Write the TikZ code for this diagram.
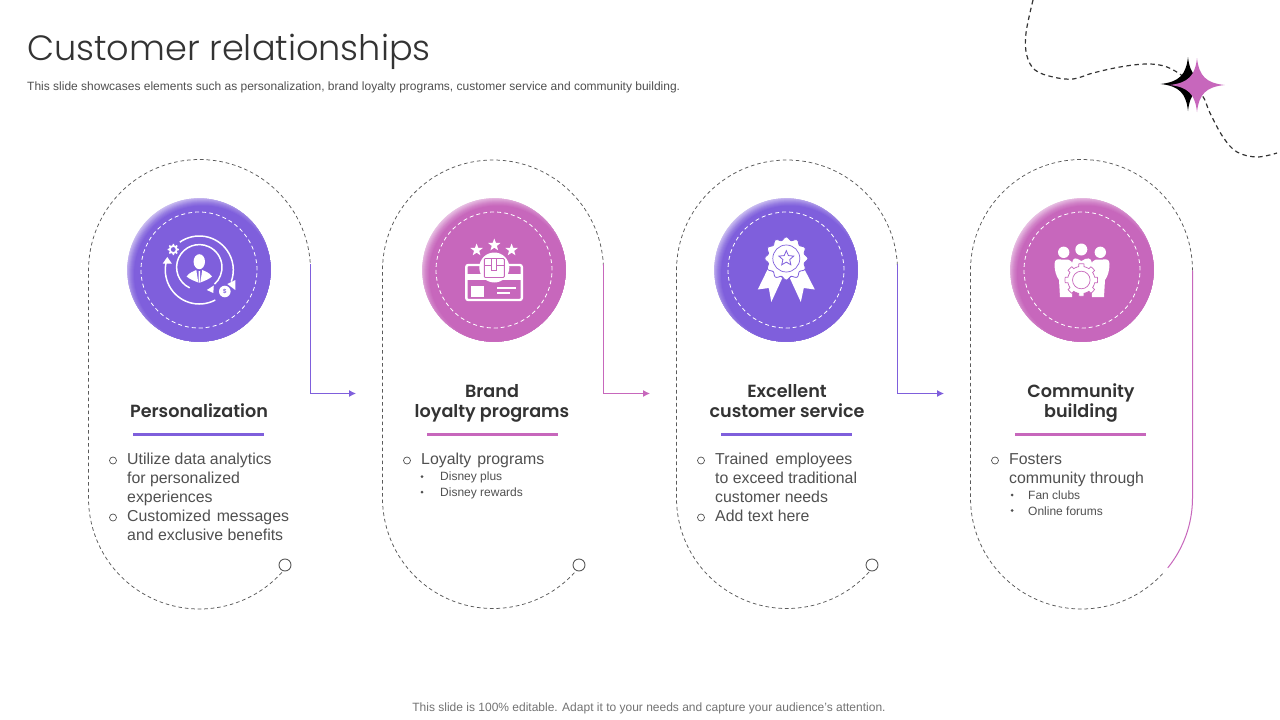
\documentclass[tikz,border=0pt]{standalone}
\usepackage{fontspec}
\setmainfont{Liberation Sans}
\newfontfamily\titlef{Poppins Light}
\newfontfamily\headf{Poppins SemiBold}
\usetikzlibrary{arrows.meta,calc}
\definecolor{purp}{HTML}{7F5FDC}
\definecolor{pinkm}{HTML}{C767BC}
\definecolor{txt}{HTML}{505050}
\definecolor{headc}{HTML}{333333}
\definecolor{dashc}{HTML}{5A5A5A}
\tikzset{
  ball/.style={circle,inner sep=0pt,minimum size=143.4pt},
  ringd/.style={circle,inner sep=0pt,minimum size=116pt,draw=white,line width=0.8pt,dash pattern=on 4pt off 3pt},
  capsule/.style={draw=dashc,line width=0.75pt,dash pattern=on 3.6pt off 2.9pt},
  knob/.style={circle,draw=dashc,fill=white,line width=0.9pt,inner sep=0pt,minimum size=12pt},
  flowp/.style={draw=purp,line width=1pt,-{Latex[length=7pt,width=7pt]}},
  flowk/.style={draw=pinkm,line width=1pt,-{Latex[length=7pt,width=7pt]}},
  headt/.style={font=\headf\fontsize{17.6}{20}\selectfont,text=headc,anchor=base,inner sep=0pt},
  bodyt/.style={font=\fontsize{15.85}{19}\selectfont,text=txt,anchor=base west,inner sep=0pt},
  subt/.style={font=\fontsize{12}{14}\selectfont,text=txt,anchor=base west,inner sep=0pt},
  bul/.style={circle,draw=txt,line width=0.7pt,inner sep=0pt,minimum size=7pt},
  subbul/.style={circle,fill=txt,inner sep=0pt,minimum size=3pt},
  rule/.style={line width=3pt},
  wl/.style={draw=white,line width=1.5pt},
}
\newcommand{\txtline}[4]{\node[bodyt] (#1) at (#2,#3) {#4};}
\newcommand{\subline}[4]{\node[subt] (#1) at (#2,#3) {#4};}
\newcommand{\wsp}{\hspace{3pt}}
\newcommand{\ballat}[4]{\node[ball] (#1) at (#2,#3) {};
  \begin{scope}\clip (#2,#3) circle[radius=71.7];
  \foreach \r/\p in {79/35,78/40,77/47,76/55,75/63,74/71,73/79,72/85,71/90,70/95,69/100}
    {\fill[#4!\p!white] (#2+4,#3+4.5) circle[radius=\r];}
  \end{scope}
  \node[ringd] (#1r) at (#2,#3) {};}
\newcommand{\fourstar}[4]{\fill[#1] (#2,#3-27) .. controls (#2+2,#3-9) and (#2+9,#3-2) .. (#2+#4,#3) .. controls (#2+9,#3+2) and (#2+2,#3+9) .. (#2,#3+27) .. controls (#2-2,#3+9) and (#2-9,#3+2) .. (#2-#4,#3) .. controls (#2-9,#3-2) and (#2-2,#3-9) .. cycle;}
\newcommand{\smallstar}[3]{\fill[white] plot[samples at={0,36,...,324},variable=\a] ({#1+(mod(\a,72)==0?#3:#3*0.42)*sin(\a)},{#2-(mod(\a,72)==0?#3:#3*0.42)*cos(\a)}) -- cycle;}
\begin{document}
\begin{tikzpicture}[x=1pt,y=1pt,yscale=-1]
\useasboundingbox (0,0) rectangle (1280,720);
\fill[white] (0,0) rectangle (1280,720);

% title
\node[font=\titlef\fontsize{35.1}{40}\selectfont,text=headc,anchor=base west,inner sep=0pt] (title) at (27,60) {Customer relationships};
\node[font=\fontsize{12}{14}\selectfont,text=txt,anchor=west,inner sep=0pt] (subtitle) at (27,87) {This slide showcases elements such as personalization, brand loyalty programs, customer service and community building.};
\node[font=\fontsize{12}{14}\selectfont,text=black!55,anchor=center,inner sep=0pt] (footer) at (649,708.5) {This slide is 100\% editable. Adapt it to your needs and capture your audience's attention.};

% corner ornament
\draw[draw=headc,line width=1.2pt,dash pattern=on 4.5pt off 3.5pt] plot[smooth,tension=0.6] coordinates {(1033,0) (1026,33) (1026.7,55) (1035,70) (1053,77) (1073,79) (1093,73) (1120,67) (1147,64) (1167,67) (1185,78) (1202,95) (1210,113) (1223,137) (1237,152) (1257,157) (1277,153)};
\fourstar{black}{1188}{84}{27.5}
\fourstar{pinkm}{1197}{85}{27.5}

% capsule 1
\coordinate (kA) at (285,565);
\coordinate (startA) at (310.5,264);
\coordinate (endA) at (356,393.5);
\draw[capsule] (kA) -- ($(199.5,498)+(37:111)$) arc[start angle=37,end angle=180,radius=111] -- (88.5,270.5) arc[start angle=180,end angle=360,radius=111] -- (startA);
\node[knob] (knobA) at (kA) {};
\draw[flowp] (startA) |- (endA);
% capsule 2
\coordinate (kB) at (579,565);
\coordinate (startB) at (603.5,264);
\coordinate (endB) at (650,393.5);
\draw[capsule] (kB) -- ($(493,498)+(37:110.5)$) arc[start angle=37,end angle=180,radius=110.5] -- (382.5,270.5) arc[start angle=180,end angle=360,radius=110.5] -- (startB);
\node[knob] (knobB) at (kB) {};
\draw[flowk] (startB) |- (endB);
% capsule 3
\coordinate (kC) at (872,565);
\coordinate (startC) at (897.5,264);
\coordinate (endC) at (944,393.5);
\draw[capsule] (kC) -- ($(787,498)+(37:110.5)$) arc[start angle=37,end angle=180,radius=110.5] -- (676.5,270.5) arc[start angle=180,end angle=360,radius=110.5] -- (startC);
\node[knob] (knobC) at (kC) {};
\draw[flowp] (startC) |- (endC);
% capsule 4
\draw[capsule] ($(1081.5,498)+(43:111)$) arc[start angle=43,end angle=180,radius=111] -- (970.5,270.5) arc[start angle=180,end angle=360,radius=111];
\draw[draw=pinkm,line width=1pt] (1192.5,270.5) -- (1192.5,498) arc[start angle=0,end angle=39,radius=111];

% balls
\ballat{ballA}{199}{270}{purp}
\ballat{ballB}{494}{270}{pinkm}
\ballat{ballC}{786}{270}{purp}
\ballat{ballD}{1082}{270}{pinkm}

% icon 1
\begin{scope}[shift={(199.3,270)}]
  \draw[wl] (235:34) arc[start angle=235,end angle=380,radius=34];
  \fill[white] (28,14) -- (36,10) -- (36,20) -- cycle;
  \draw[wl] (62:34) arc[start angle=62,end angle=196,radius=34];
  \fill[white] (-32,-13) -- (-36.5,-6.5) -- (-27.5,-6.5) -- cycle;
  \draw[wl] ($(0,-2.7)+(115:22.7)$) arc[start angle=115,end angle=408,radius=22.7];
  \fill[white] (7.5,20) -- (14.5,15.5) -- (14,23) -- cycle;
  \fill[white] (0,-8.3) ellipse[x radius=5.7,y radius=7.5];
  \fill[white] (-12.7,6.5) .. controls (-10,2.5) and (-6,1.5) .. (-3,0) -- (-1,12.5) .. controls (-5,11) and (-10,9) .. cycle;
  \fill[white] (12.7,6.5) .. controls (10,2.5) and (6,1.5) .. (3,0) -- (1,12.5) .. controls (5,11) and (10,9) .. cycle;
  \fill[white] (-0.7,1) -- (0.7,1) -- (0.8,12.5) -- (-0.8,12.5) -- cycle;
  \fill[white] plot[domain=0:360,samples=97,smooth] ({-26+(cos(8*\x)>0?5.6:4.2)*cos(\x)},{-20.5+(cos(8*\x)>0?5.6:4.2)*sin(\x)}) -- cycle;
  \fill[purp] (-26,-20.5) circle[radius=2.4];
  \fill[white] (25.5,21.5) circle[radius=5.8];
  \node[font=\bfseries\fontsize{6}{6}\selectfont,text=purp,inner sep=0pt] (dollar) at (25.5,21.5) {\$};
\end{scope}

% icon 2
\begin{scope}[shift={(494.3,270)}]
  \smallstar{-17.7}{-20}{6.5}
  \smallstar{0}{-25}{6.5}
  \smallstar{17.3}{-20}{6.5}
  \draw[draw=white,line width=2.4pt,rounded corners=2pt] (-28,-5) rectangle (27.5,30);
  \fill[white] (-28,4) rectangle (27.5,9.5);
  \fill[white] (-23,15.5) rectangle (-10.5,27);
  \fill[white] (3,16.5) rectangle (22,18.5);
  \fill[white] (3,21.5) rectangle (15.5,24);
  \fill[white] (0,-2.5) circle[radius=15];
  \draw[draw=pinkm,line width=0.9pt,rounded corners=1pt] (-10,-11.5) rectangle (10,7.5);
  \draw[draw=pinkm,line width=0.9pt] (-10,-5) -- (-2.5,-5) -- (-2.5,0) -- (2.5,0) -- (2.5,-5) -- (10,-5);
  \draw[draw=pinkm,line width=0.9pt] (-2.5,-11.5) -- (-2.5,-5) (2.5,-11.5) -- (2.5,-5);
\end{scope}

% icon 3
\begin{scope}[shift={(786.3,270)}]
  \fill[white] (-18.5,-1) -- (-28.5,19.5) -- (-17.5,18) -- (-15,32) -- (-4,8) -- cycle;
  \fill[white] (18,-1) -- (28.5,19.5) -- (17.5,18) -- (14.5,32) -- (3.5,8) -- cycle;
  \draw[draw=purp,line width=0.8pt,fill=white] plot[domain=0:360,samples=145,smooth] ({(20+1.5*cos(12*\x))*cos(\x)},{-11.5+(20+1.5*cos(12*\x))*sin(\x)}) -- cycle;
  \draw[draw=purp,line width=0.7pt] (0,-11.5) circle[radius=13.5];
  \draw[draw=purp,line width=0.8pt,fill=white] plot[samples at={0,36,...,324},variable=\a] ({(mod(\a,72)==0?7.8:3.6)*sin(\a)},{-11.5-(mod(\a,72)==0?7.8:3.6)*cos(\a)}) -- cycle;
\end{scope}

% icon 4
\begin{scope}[shift={(1082,270)}]
  \fill[white] (-18.3,-17.7) circle[radius=5.7];
  \fill[white] (-0.7,-20.5) circle[radius=6];
  \fill[white] (18.3,-17.7) circle[radius=5.7];
  \fill[white] (-27.5,-6) .. controls (-27.5,-11) and (-24,-11) .. (-21,-10.5) -- (-14,-10.5) .. controls (-11,-10) and (-10,-8) .. (-9,-5) -- (-10,27) -- (-22,27) -- (-23,10) .. controls (-26,6) and (-27.5,0) .. cycle;
  \fill[white] (27.5,-6) .. controls (27.5,-11) and (24,-11) .. (21,-10.5) -- (14,-10.5) .. controls (11,-10) and (10,-8) .. (9,-5) -- (10,27) -- (22,27) -- (23,10) .. controls (26,6) and (27.5,0) .. cycle;
  \fill[white] (-10,-7) .. controls (-9,-13) and (-6,-12.5) .. (-0.7,-9) .. controls (5,-12.5) and (9,-13) .. (10,-7) -- (10,2) -- (-10,2) -- cycle;
  \draw[draw=pinkm,line width=0.7pt,fill=white] plot[domain=0:360,samples=193,smooth] ({-0.7+(cos(8*\x)>0?16.3:13.6)*cos(\x)},{10+(cos(8*\x)>0?16.3:13.6)*sin(\x)}) -- cycle;
  \draw[draw=pinkm,line width=0.7pt] (-0.7,10) circle[radius=8.8];
\end{scope}

% headings
\node[headt] (h1) at (199,417) {Personalization};
\node[headt] (h2a) at (492,397) {Brand};
\node[headt] (h2b) at (492,417) {loyalty programs};
\node[headt] (h3a) at (787,397) {Excellent};
\node[headt] (h3b) at (787,417) {customer service};
\node[headt] (h4a) at (1081,397) {Community};
\node[headt] (h4b) at (1081,417) {building};

% rules
\coordinate (r1a) at (133,434.5); \coordinate (r1b) at (264,434.5);
\coordinate (r2a) at (427,434.5); \coordinate (r2b) at (558,434.5);
\coordinate (r3a) at (721,434.5); \coordinate (r3b) at (852,434.5);
\coordinate (r4a) at (1015,434.5); \coordinate (r4b) at (1146,434.5);
\draw[rule,draw=purp] (r1a) -- (r1b);
\draw[rule,draw=pinkm] (r2a) -- (r2b);
\draw[rule,draw=purp] (r3a) -- (r3b);
\draw[rule,draw=pinkm] (r4a) -- (r4b);

% column 1
\node[bul] (b11) at (113,460.5) {};
\txtline{a1}{127}{464}{Utilize data analytics}
\txtline{a2}{127}{483}{for personalized}
\txtline{a3}{127}{502}{experiences}
\node[bul] (b12) at (113,517.5) {};
\txtline{a4}{127}{521}{Customized\hspace{1.5pt} messages}
\txtline{a5}{127}{540}{and exclusive benefits}

% column 2
\node[bul] (b21) at (407,460.5) {};
\txtline{c1}{421}{464}{Loyalty\hspace{1.5pt} programs}
\node[subbul] (s21) at (422,476.5) {};
\subline{c2}{440}{480}{Disney plus}
\node[subbul] (s22) at (422,492) {};
\subline{c3}{440}{496}{Disney rewards}

% column 3
\node[bul] (b31) at (701,460.5) {};
\txtline{d1}{715}{464}{Trained\wsp{} employees}
\txtline{d2}{715}{483}{to exceed traditional}
\txtline{d3}{715}{502}{customer needs}
\node[bul] (b32) at (701,517.5) {};
\txtline{d4}{715}{521}{Add text here}

% column 4
\node[bul] (b41) at (995,460.5) {};
\txtline{e1}{1009}{464}{Fosters}
\txtline{e2}{1009}{483}{community through}
\node[subbul] (s41) at (1012,495) {};
\subline{e3}{1028}{499}{Fan clubs}
\node[subbul] (s42) at (1012,510.5) {};
\subline{e4}{1028}{515}{Online forums}
\end{tikzpicture}
\end{document}
